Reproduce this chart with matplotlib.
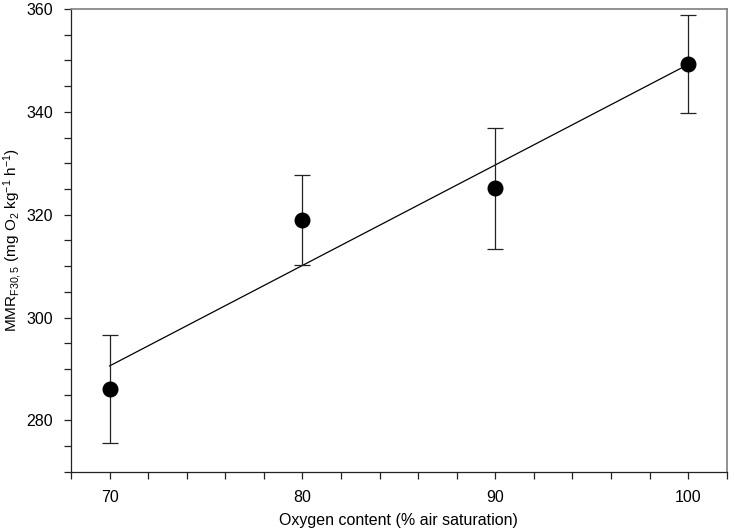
import numpy as np
import matplotlib
matplotlib.use("Agg")
import matplotlib.pyplot as plt
from matplotlib.ticker import MultipleLocator

plt.rcParams['font.family'] = ['Liberation Sans', 'DejaVu Sans']
plt.rcParams['mathtext.default'] = 'regular'

oxygen = [70, 80, 90, 100]
mmr = [286.2, 319.0, 325.1, 349.3]
mmr_err = [10.5, 8.7, 11.7, 9.6]

fig = plt.figure(figsize=(7.34, 5.29), dpi=100)
ax = fig.add_axes([0.0967, 0.108, 0.8933, 0.875])

slope, intercept = np.polyfit(oxygen, mmr, 1)
xl = np.array([oxygen[0], oxygen[-1]])
ax.plot(xl, slope * xl + intercept, color='black', lw=0.9, zorder=2)

ax.errorbar(oxygen, mmr, yerr=mmr_err, fmt='o', color='black', ms=10.5,
            ecolor='#222222', elinewidth=0.9, capsize=6, capthick=0.9, zorder=3)

ax.set_xlim(68, 102)
ax.set_ylim(270, 360)
ax.xaxis.set_major_locator(MultipleLocator(10))
ax.xaxis.set_minor_locator(MultipleLocator(2))
ax.yaxis.set_major_locator(MultipleLocator(20))
ax.yaxis.set_minor_locator(MultipleLocator(5))
ax.set_xticks([70, 80, 90, 100])
ax.tick_params(which='both', direction='out', length=5, width=0.9, color='#222222',
               labelsize=11.5, pad=8, top=False, right=False)
ax.tick_params(which='minor', length=5)

for s in ['left', 'bottom']:
    ax.spines[s].set_color('#222222')
    ax.spines[s].set_linewidth(0.9)
for s in ['top', 'right']:
    ax.spines[s].set_color('#7f7f7f')
    ax.spines[s].set_linewidth(1.2)

ax.set_xlabel('Oxygen content (% air saturation)', fontsize=11.5, labelpad=6)
ax.set_ylabel(r'MMR$_{F30,5}$ (mg O$_{2}$ kg$^{-1}$ h$^{-1}$)', fontsize=11)
ax.yaxis.set_label_coords(-0.072, 0.5)

fig.savefig('out.png', dpi=100)
